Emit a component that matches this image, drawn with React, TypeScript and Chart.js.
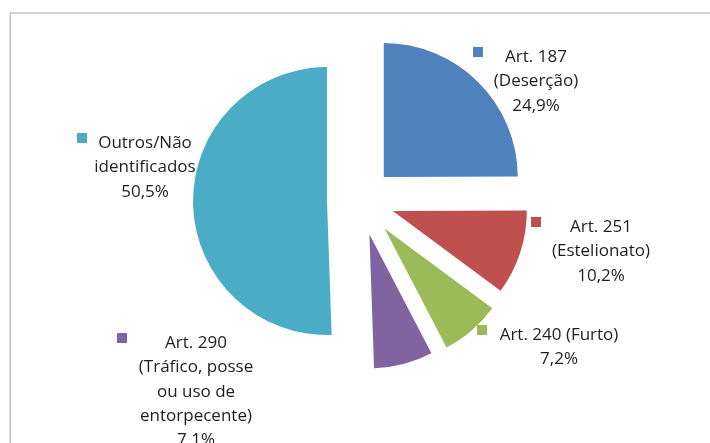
import React, { useEffect, useRef } from "react";
import { Chart, registerables } from "chart.js";

Chart.register(...registerables);

// ---- data ----
const categories: string[][] = [
  ["Art. 187", "(Deserção)"],
  ["Art. 251", "(Estelionato)"],
  ["Art. 240 (Furto)"],
  ["Art. 290", "(Tráfico, posse", "ou uso de", "entorpecente)"],
  ["Outros/Não", "identificados"],
];
const values: number[] = [24.9, 10.2, 7.2, 7.1, 50.5];
const percentLabels: string[] = ["24,9%", "10,2%", "7,2%", "7.1%", "50,5%"];
const colors: string[] = ["#4F81BD", "#C0504D", "#9BBB59", "#8064A2", "#4BACC6"];

// ---- layout (not data) ----
const explodePx: number[] = [33, 34, 37, 35, 33.5];
// [square left x, text centre x, first baseline y]
const labelAnchors: number[][] = [
  [473, 536, 62],
  [531, 601, 232],
  [477, 559, 340],
  [117, 196, 348],
  [77, 145, 148],
];
const LINE_H = 24.3;
const FONT = '17px "Open Sans"';

const explodePlugin = {
  id: "explodeSlices",
  beforeDatasetDraw(chart: any, args: any) {
    const meta = args.meta;
    const ctx = chart.ctx;
    meta.data.forEach((arc: any, i: number) => {
      const mid = (arc.startAngle + arc.endAngle) / 2;
      const d = explodePx[i] || 0;
      ctx.save();
      ctx.translate(Math.cos(mid) * d, Math.sin(mid) * d);
      arc.draw(ctx, chart.chartArea);
      ctx.restore();
    });
    return false;
  },
};

const framePlugin = {
  id: "frame",
  beforeDraw(chart: any) {
    const ctx = chart.ctx;
    ctx.save();
    ctx.fillStyle = "#ffffff";
    ctx.fillRect(0, 0, chart.width, chart.height);
    ctx.strokeStyle = "#c4c4c4";
    ctx.lineWidth = 1.5;
    ctx.beginPath();
    ctx.moveTo(10.25, chart.height + 5);
    ctx.lineTo(10.25, 13);
    ctx.lineTo(chart.width + 5, 13);
    ctx.stroke();
    ctx.restore();
  },
};

const labelPlugin = {
  id: "sliceLabels",
  afterDraw(chart: any) {
    const ctx = chart.ctx;
    ctx.save();
    ctx.font = FONT;
    ctx.textAlign = "center";
    ctx.textBaseline = "alphabetic";
    categories.forEach((lines, i) => {
      const [sqX, cx, y0] = labelAnchors[i];
      ctx.fillStyle = colors[i];
      ctx.fillRect(sqX, y0 - 15, 10, 10);
      ctx.fillStyle = "#1e1e1e";
      const all = [...lines, percentLabels[i]];
      all.forEach((t, j) => {
        ctx.fillText(t, cx, y0 + j * LINE_H);
      });
    });
    ctx.restore();
  },
};

export default function App() {
  const ref = useRef<HTMLCanvasElement | null>(null);

  useEffect(() => {
    if (!ref.current) return;
    const chart = new Chart(ref.current, {
      type: "pie",
      data: {
        labels: categories.map((c) => c.join(" ")),
        datasets: [
          {
            data: values,
            backgroundColor: colors,
            borderWidth: 0,
            radius: 134,
          } as any,
        ],
      },
      options: {
        animation: false,
        responsive: false,
        devicePixelRatio: 1,
        layout: { padding: { left: 11, right: 0, top: 0, bottom: 42 } },
        plugins: {
          legend: { display: false },
          tooltip: { enabled: false },
        },
      },
      plugins: [framePlugin, explodePlugin, labelPlugin],
    });
    return () => chart.destroy();
  }, []);

  return (
    <div style={{ position: "fixed", left: 0, top: 0, width: 710, height: 443, background: "#fff" }}>
      <canvas ref={ref} width={710} height={443} style={{ width: 710, height: 443, display: "block" }} />
    </div>
  );
}
